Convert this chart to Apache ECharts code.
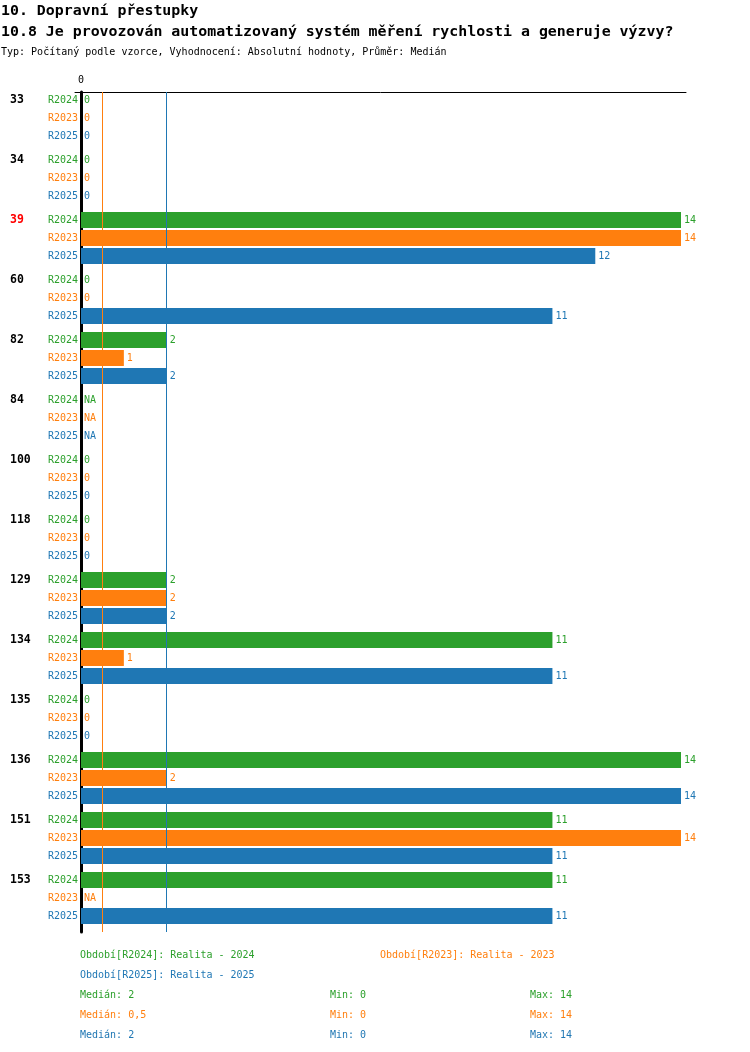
<!DOCTYPE html>
<html lang="cs">
<head>
    <meta charset="UTF-8">
    <title>10.8 Automatizovaný systém měření rychlosti</title>
    <script src="https://cdn.jsdelivr.net/npm/echarts@6/dist/echarts.min.js"></script>
    <style>
        html, body { margin: 0; padding: 0; background: #fff; }
        #main { width: 750px; height: 1052px; }
    </style>
</head>
<body>
<div id="main"></div>

<script>
    // data
    var groups = ['33', '34', '39', '60', '82', '84', '100', '118', '129', '134', '135', '136', '151', '153'];
    var highlighted = ['39'];
    var periods = ['R2024', 'R2023', 'R2025'];
    var periodNames = ['Realita - 2024', 'Realita - 2023', 'Realita - 2025'];
    var r2024 = [0, 0, 14, 0, 2, null, 0, 0, 2, 11, 0, 14, 11, 11];
    var r2023 = [0, 0, 14, 0, 1, null, 0, 0, 2, 1, 0, 2, 14, null];
    var r2025 = [0, 0, 12, 11, 2, null, 0, 0, 2, 11, 0, 14, 11, 11];
    var colors = ['#2ca02c', '#ff7f0e', '#1f77b4'];

    var FONT = 'DejaVu Sans Mono';
    var values = [r2024, r2023, r2025];

    function median(arr) {
        var a = arr.filter(function (v) { return v != null; }).sort(function (x, y) { return x - y; });
        var m = Math.floor(a.length / 2);
        return a.length % 2 ? a[m] : (a[m - 1] + a[m]) / 2;
    }
    function fmt(v) { return String(v).replace('.', ','); }

    var myChart = echarts.init(document.getElementById('main'));

    var series = values.map(function (arr, i) {
        return {
            name: periods[i],
            type: 'bar',
            barWidth: 16,
            barGap: '12.5%',
            itemStyle: { color: colors[i] },
            data: arr.map(function (v) { return v == null ? 0 : v; }),
            label: {
                show: true,
                position: 'right',
                distance: 3,
                fontFamily: FONT,
                fontSize: 10,
                color: colors[i],
                formatter: function (p) { return arr[p.dataIndex] == null ? 'NA' : p.value; }
            },
            markLine: {
                silent: true,
                symbol: 'none',
                label: { show: false },
                lineStyle: { color: colors[i], width: 1, type: 'solid' },
                data: [{ xAxis: median(arr) }]
            }
        };
    });
    // empty spacer column so the three bars sit at the top of each band
    series.push({
        type: 'bar', barWidth: 6, barGap: '12.5%', silent: true,
        data: groups.map(function () { return null; })
    });

    var rich = {
        g: { width: 37, align: 'left', fontFamily: FONT, fontSize: 11.5, fontWeight: 'bold', color: '#000' },
        gr: { width: 37, align: 'left', fontFamily: FONT, fontSize: 11.5, fontWeight: 'bold', color: '#ff0000' },
        s: { width: 37, fontSize: 10 }
    };
    periods.forEach(function (p, i) {
        rich['r' + i] = { width: 31, align: 'right', fontFamily: FONT, fontSize: 10, color: colors[i] };
    });

    var graphics = [
        { type: 'text', left: 1, top: 4, style: { text: '10. Dopravní přestupky', font: 'bold 14.9px "DejaVu Sans Mono"', fill: '#000' } },
        { type: 'text', left: 1, top: 25, style: { text: '10.8 Je provozován automatizovaný systém měření rychlosti a generuje výzvy?', font: 'bold 14.9px "DejaVu Sans Mono"', fill: '#000' } },
        { type: 'text', left: 1, top: 47, style: { text: 'Typ: Počítaný podle vzorce, Vyhodnocení: Absolutní hodnoty, Průměr: Medián', font: '10px "DejaVu Sans Mono"', fill: '#000' } }
    ];
    var legendPos = [[80, 950], [380, 950], [80, 970]];
    periods.forEach(function (p, i) {
        graphics.push({ type: 'text', left: legendPos[i][0], top: legendPos[i][1],
            style: { text: 'Období[' + p + ']: ' + periodNames[i], font: '10px "DejaVu Sans Mono"', fill: colors[i] } });
        var nn = values[i].filter(function (v) { return v != null; });
        var y = 990 + i * 20;
        graphics.push({ type: 'text', left: 80, top: y, style: { text: 'Medián: ' + fmt(median(values[i])), font: '10px "DejaVu Sans Mono"', fill: colors[i] } });
        graphics.push({ type: 'text', left: 330, top: y, style: { text: 'Min: ' + fmt(Math.min.apply(null, nn)), font: '10px "DejaVu Sans Mono"', fill: colors[i] } });
        graphics.push({ type: 'text', left: 530, top: y, style: { text: 'Max: ' + fmt(Math.max.apply(null, nn)), font: '10px "DejaVu Sans Mono"', fill: colors[i] } });
    });

    var option = {
        animation: false,
        grid: { left: 75, right: 64, top: 92, bottom: 120, containLabel: false },
        xAxis: {
            type: 'value',
            position: 'top',
            min: -0.14,
            max: 14.1167,
            splitLine: { show: false },
            axisTick: { show: false },
            axisLine: { show: true, lineStyle: { color: '#000', width: 1 } },
            axisLabel: {
                margin: 7,
                fontFamily: FONT,
                fontSize: 10,
                color: '#000',
                showMinLabel: false,
                showMaxLabel: false,
                formatter: function (v) { return Math.abs(v) < 1e-9 ? '0' : ''; }
            }
        },
        yAxis: {
            type: 'category',
            inverse: true,
            data: groups,
            axisTick: { show: false },
            axisLine: { show: true, onZero: true, lineStyle: { color: '#000', width: 3 } },
            axisLabel: {
                interval: 0,
                showMinLabel: true,
                showMaxLabel: true,
                margin: -3,
                lineHeight: 18,
                padding: [0, 0, 8, 0],
                rich: rich,
                formatter: function (v) {
                    var g = highlighted.indexOf(v) >= 0 ? 'gr' : 'g';
                    return '{' + g + '|' + v + '}{r0|' + periods[0] + '}\n' +
                        '{s| }{r1|' + periods[1] + '}\n' +
                        '{s| }{r2|' + periods[2] + '}';
                }
            }
        },
        graphic: graphics,
        series: series
    };

    myChart.setOption(option);
</script>
</body>
</html>
